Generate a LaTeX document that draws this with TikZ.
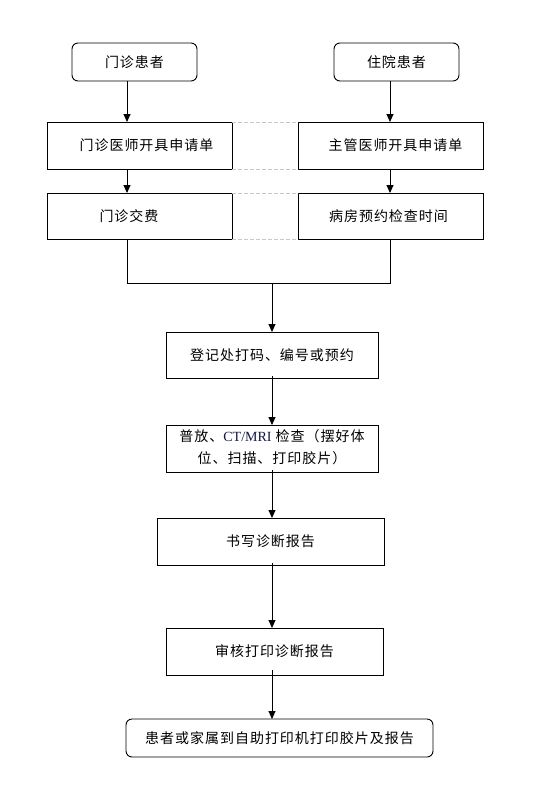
\documentclass[tikz,border=0pt]{standalone}
\usepackage{fontspec}
\newfontfamily\cjk[LetterSpace=7]{Noto Sans CJK SC}
\newfontfamily\lat{Liberation Serif}
\usetikzlibrary{arrows.meta}
\definecolor{dashgray}{RGB}{200,200,200}
\definecolor{ctblue}{RGB}{20,20,70}
\begin{document}
\begin{tikzpicture}[x=1pt,y=-1pt,
  every node/.style={font=\cjk\fontsize{14pt}{22pt}\selectfont, inner sep=0pt, outer sep=0pt},
  box/.style={draw, line width=0.9pt},
  rbox/.style={draw, line width=0.9pt, rounded corners=6pt},
  arr/.style={-{Triangle[width=7pt,length=8pt]}, line width=0.9pt},
  ln/.style={line width=0.9pt},
  dsh/.style={dashgray, line width=0.8pt, dash pattern=on 4pt off 2pt}]
\useasboundingbox (0,0) rectangle (554,806);
% boxes
\node[rbox, minimum width=125pt, minimum height=38pt] (a) at (134.5,62) {门诊患者};
\node[rbox, minimum width=125pt, minimum height=38pt] (b) at (396.5,62) {住院患者};
\node[box, minimum width=185pt, minimum height=47pt] (c) at (139.5,145.5) {\hspace*{14pt}门诊医师开具申请单};
\node[box, minimum width=185pt, minimum height=47pt] (d) at (390.5,145.5) {\hspace*{10pt}主管医师开具申请单};
\node[box, minimum width=185pt, minimum height=46pt] (e) at (139.5,216) {门诊交费\hspace*{21pt}};
\node[box, minimum width=185pt, minimum height=46pt] (f) at (390.5,216) {病房预约检查时间\hspace*{4pt}};
\node[box, minimum width=212pt, minimum height=46pt] (g) at (272,355) {登记处打码、编号或预约};
\node[box, minimum width=212pt, minimum height=47pt] (h) at (272,448.5) {\begin{tabular}{@{}c@{}}普放、{\lat\color{ctblue}CT/MRI} 检查（摆好体\\位、扫描、打印胶片）\end{tabular}};
\node[box, minimum width=227pt, minimum height=47pt] (i) at (270.5,541.5) {书写诊断报告};
\node[box, minimum width=217pt, minimum height=47pt] (j) at (274.5,651.5) {审核打印诊断报告};
\node[rbox, minimum width=307pt, minimum height=38pt] (k) at (279.5,738) {患者或家属到自助打印机打印胶片及报告};
% merge point
\coordinate (m) at (272,283);
\coordinate (ml) at (127,283);
\coordinate (mr) at (390,283);
% dashed links
\draw[dsh] (c.north east) -- (d.north west);
\draw[dsh] (c.south east) -- (d.south west);
\draw[dsh] (e.north east) -- (f.north west);
\draw[dsh] (e.south east) -- (f.south west);
% arrows
\draw[arr] (a.south -| ml) -- (c.north -| ml);
\draw[arr] (b.south -| mr) -- (d.north -| mr);
\draw[arr] (c.south -| ml) -- (e.north -| ml);
\draw[arr] (d.south -| mr) -- (f.north -| mr);
\draw[ln] (e.south -| ml) -- (ml) -- (mr) -- (f.south -| mr);
\draw[arr] (m) -- (g.north -| m);
\draw[arr] ([yshift=2pt]g.south -| m) -- (h.north -| m);
\draw[arr] ([yshift=2pt]h.south -| m) -- (i.north -| m);
\draw[arr] ([yshift=2pt]i.south -| m) -- (j.north -| m);
\draw[arr] ([yshift=5pt]j.south -| m) -- (k.north -| m);
\end{tikzpicture}
\end{document}
